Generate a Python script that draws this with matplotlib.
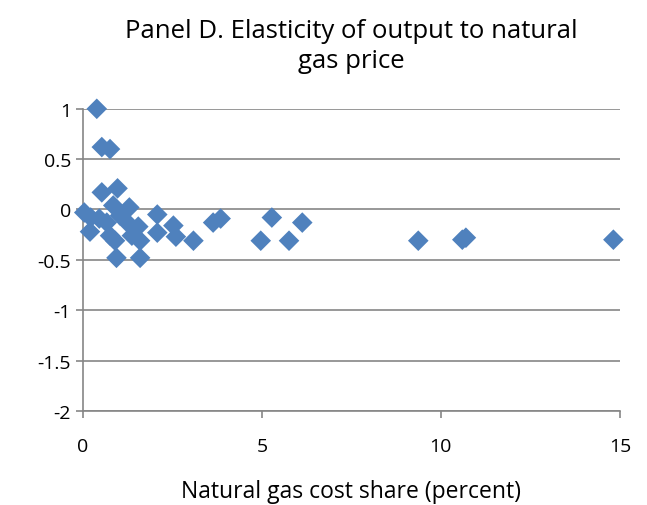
import matplotlib.pyplot as plt

# Natural gas cost share (percent) and output elasticity
cost_share = [0.39, 0.53, 0.76, 0.53, 0.97, 0.04, 0.22, 0.20, 0.46, 0.85,
              1.30, 0.67, 1.04, 1.27, 1.55, 0.76, 0.90, 1.37, 1.60, 0.94,
              1.60, 2.08, 2.08, 2.53, 2.60, 3.09, 3.64, 3.85, 4.97, 5.28,
              5.76, 6.13, 9.37, 10.60, 10.70, 14.82]
elasticity = [1.00, 0.62, 0.60, 0.17, 0.21, -0.03, -0.08, -0.22, -0.09, 0.04,
              0.02, -0.13, -0.06, -0.14, -0.17, -0.26, -0.31, -0.26, -0.31, -0.48,
              -0.48, -0.05, -0.23, -0.16, -0.27, -0.31, -0.13, -0.09, -0.31, -0.08,
              -0.31, -0.13, -0.31, -0.30, -0.28, -0.30]

x_ticks = [0, 5, 10, 15]
y_ticks = [-2, -1.5, -1, -0.5, 0, 0.5, 1]
y_labels = ['-2', '-1.5', '-1', '-0.5', '0', '0.5', '1']

plt.rcParams['font.family'] = ['Open Sans', 'DejaVu Sans']

fig = plt.figure(figsize=(6.47, 5.06), dpi=100)
ax = fig.add_axes([0.128, 0.186, 0.83, 0.597])

ax.scatter(cost_share, elasticity, marker='D', s=110, color='#4F81BD',
           edgecolors='none', zorder=3, clip_on=False)

ax.set_xlim(0, 15)
ax.set_ylim(-2, 1)
ax.set_xticks(x_ticks)
ax.set_xticklabels([str(t) for t in x_ticks])
ax.set_yticks(y_ticks)
ax.set_yticklabels(y_labels)

ax.grid(axis='y', color='#868686', linewidth=1.2)
ax.set_axisbelow(True)
for s in ['top', 'right']:
    ax.spines[s].set_visible(False)
for s in ['left', 'bottom']:
    ax.spines[s].set_color('#868686')
    ax.spines[s].set_linewidth(1.2)
ax.tick_params(axis='both', colors='#868686', labelcolor='black',
               labelsize=14, length=5, width=1.2)
ax.tick_params(axis='x', pad=14)

ax.set_title('Panel D. Elasticity of output to natural\ngas price',
             fontsize=18.5, pad=30, linespacing=1.25)
ax.set_xlabel('Natural gas cost share (percent)', fontsize=16.5, labelpad=17)

fig.savefig('out.png', dpi=100)
